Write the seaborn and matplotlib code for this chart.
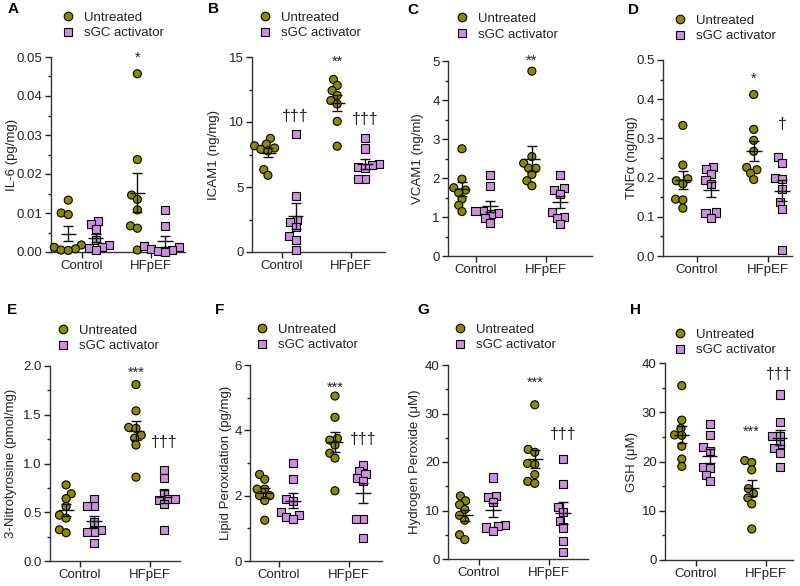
import numpy as np
import pandas as pd
import matplotlib
matplotlib.use("Agg")
import matplotlib.pyplot as plt
import seaborn as sns
from matplotlib.lines import Line2D
from matplotlib.ticker import MultipleLocator, FormatStrFormatter

sns.set_style("ticks")
plt.rcParams["font.family"] = ["Liberation Sans", "DejaVu Sans"]

GROUPS = ["Control", "HFpEF"]
TREATMENTS = ["Untreated", "sGC activator"]
OLIVE = "#8A8A00"
VIOLET = "#CC8FDD"

# ---- data ----
IL6_CTRL_UNT = [0.0133, 0.0100, 0.0096, 0.0018, 0.0012, 0.0008, 0.0005, 0.0004]
IL6_CTRL_SGC = [0.0079, 0.0072, 0.0058, 0.0031, 0.0018, 0.0014, 0.0011, 0.0005]
IL6_HF_UNT = [0.0457, 0.0237, 0.0146, 0.0135, 0.0108, 0.0067, 0.0061, 0.0005]
IL6_HF_SGC = [0.0107, 0.0067, 0.0016, 0.0012, 0.0008, 0.0004, 0.0002, 0.0001]

ICAM_CTRL_UNT = [8.74, 8.30, 8.17, 8.00, 7.90, 7.78, 6.34, 5.90]
ICAM_CTRL_SGC = [9.07, 4.28, 2.45, 2.29, 1.93, 1.21, 0.93, 0.18]
ICAM_HF_UNT = [13.27, 12.81, 12.42, 12.04, 11.65, 11.39, 10.05, 8.14]
ICAM_HF_SGC = [8.74, 7.96, 6.75, 6.68, 6.57, 6.49, 5.59, 5.59]

VCAM_CTRL_UNT = [2.75, 1.97, 1.75, 1.69, 1.62, 1.46, 1.30, 1.14]
VCAM_CTRL_SGC = [2.07, 1.79, 1.15, 1.15, 1.11, 1.08, 0.98, 0.85]
VCAM_HF_UNT = [4.74, 2.55, 2.38, 2.25, 2.25, 2.09, 1.93, 1.80]
VCAM_HF_SGC = [2.07, 1.75, 1.69, 1.60, 1.12, 1.01, 0.98, 0.82]

TNF_CTRL_UNT = [0.333, 0.232, 0.197, 0.192, 0.184, 0.145, 0.143, 0.122]
TNF_CTRL_SGC = [0.228, 0.221, 0.208, 0.195, 0.184, 0.111, 0.109, 0.098]
TNF_HF_UNT = [0.412, 0.323, 0.295, 0.267, 0.226, 0.220, 0.211, 0.195]
TNF_HF_SGC = [0.252, 0.238, 0.198, 0.197, 0.171, 0.138, 0.121, 0.015]

NT_CTRL_UNT = [0.78, 0.69, 0.64, 0.56, 0.47, 0.44, 0.32, 0.29]
NT_CTRL_SGC = [0.64, 0.56, 0.56, 0.40, 0.32, 0.30, 0.30, 0.18]
NT_HF_UNT = [1.81, 1.54, 1.37, 1.36, 1.29, 1.26, 1.19, 0.86]
NT_HF_SGC = [0.93, 0.85, 0.70, 0.64, 0.64, 0.63, 0.58, 0.32]

LP_CTRL_UNT = [2.65, 2.50, 2.20, 2.20, 2.00, 2.00, 1.85, 1.25]
LP_CTRL_SGC = [3.00, 2.50, 1.90, 1.85, 1.50, 1.40, 1.35, 1.30]
LP_HF_UNT = [5.05, 4.40, 3.75, 3.70, 3.55, 3.30, 3.15, 2.15]
LP_HF_SGC = [2.95, 2.75, 2.65, 2.55, 2.45, 1.30, 1.30, 0.70]

HP_CTRL_UNT = [13.0, 12.0, 11.2, 10.2, 9.0, 8.0, 5.0, 4.0]
HP_CTRL_SGC = [16.8, 13.0, 12.7, 11.7, 7.0, 6.8, 6.5, 5.8]
HP_HF_UNT = [31.8, 22.6, 22.0, 19.7, 19.5, 17.4, 16.0, 15.6]
HP_HF_SGC = [20.7, 15.5, 10.7, 9.7, 7.8, 6.5, 3.7, 1.5]

GSH_CTRL_UNT = [35.4, 28.4, 26.7, 25.4, 25.3, 23.1, 20.5, 19.0]
GSH_CTRL_SGC = [27.7, 25.3, 22.9, 22.2, 18.9, 18.6, 17.2, 16.0]
GSH_HF_UNT = [20.2, 19.8, 18.3, 14.5, 13.5, 12.6, 11.4, 6.3]
GSH_HF_SGC = [33.6, 28.0, 25.2, 25.1, 23.6, 22.7, 21.8, 18.9]

PANEL_LETTERS = ["A", "B", "C", "D", "E", "F", "G", "H"]
YLABELS = ["IL-6 (pg/mg)", "ICAM1 (ng/mg)", "VCAM1 (ng/ml)", "TNF\u03b1 (ng/mg)",
           "3-Nitrotyrosine (pmol/mg)", "Lipid Peroxidation (pg/mg)",
           "Hydrogen Peroxide (\u03bcM)", "GSH (\u03bcM)"]
YMAX = [0.05, 15, 5, 0.5, 2.0, 6, 40, 40]
YMAJOR = [0.01, 5, 1, 0.1, 0.5, 2, 10, 10]
YFMT = ["%.2f", "%d", "%d", "%.1f", "%.1f", "%d", "%d", "%d"]
# significance marks: (group index, treatment index, text, height)
MARKS = [
    [(1, 0, "*", 0.0497)],
    [(1, 0, "**", 14.6), (0, 1, "\u2020\u2020\u2020", 10.4), (1, 1, "\u2020\u2020\u2020", 10.2)],
    [(1, 0, "**", 5.0)],
    [(1, 0, "*", 0.452), (1, 1, "\u2020", 0.335)],
    [(1, 0, "***", 1.93), (1, 1, "\u2020\u2020\u2020", 1.22)],
    [(1, 0, "***", 5.3), (1, 1, "\u2020\u2020\u2020", 3.72)],
    [(1, 0, "***", 36.3), (1, 1, "\u2020\u2020\u2020", 25.6)],
    [(1, 0, "***", 26.0), (1, 1, "\u2020\u2020\u2020", 37.6)],
]
DATA = [
    (IL6_CTRL_UNT, IL6_CTRL_SGC, IL6_HF_UNT, IL6_HF_SGC),
    (ICAM_CTRL_UNT, ICAM_CTRL_SGC, ICAM_HF_UNT, ICAM_HF_SGC),
    (VCAM_CTRL_UNT, VCAM_CTRL_SGC, VCAM_HF_UNT, VCAM_HF_SGC),
    (TNF_CTRL_UNT, TNF_CTRL_SGC, TNF_HF_UNT, TNF_HF_SGC),
    (NT_CTRL_UNT, NT_CTRL_SGC, NT_HF_UNT, NT_HF_SGC),
    (LP_CTRL_UNT, LP_CTRL_SGC, LP_HF_UNT, LP_HF_SGC),
    (HP_CTRL_UNT, HP_CTRL_SGC, HP_HF_UNT, HP_HF_SGC),
    (GSH_CTRL_UNT, GSH_CTRL_SGC, GSH_HF_UNT, GSH_HF_SGC),
]

# ---- layout (pixel boxes: left, right, top, bottom) ----
W, H = 800, 586
BOXES = [(51, 185, 57, 252), (252, 385, 57, 252), (448, 592, 61, 256), (663, 792, 60, 256),
         (50, 180, 366, 561), (250, 382, 365, 561), (448, 588, 365, 559), (665, 793, 363, 560)]
XLIMS = [(-0.45, 1.49), (-0.43, 1.49), (-0.40, 1.66), (-0.48, 1.34),
         (-0.43, 1.43), (-0.41, 1.47), (-0.44, 1.56), (-0.44, 1.39)]
LETTER_POS = [(8, 9), (208, 9), (407, 10), (628, 10), (7, 310), (215, 310), (417, 310), (630, 310)]
LEGEND_Y = [1.09, 1.09, 1.105, 1.09, 1.07, 1.07, 1.07, 1.034]
LEGEND_MARKER_PX = [17, 13, 14, 17, 13, 12, 12, 15]
YLABEL_CENTER_PX = [12, 215, 418, 632, 12, 227, 415, 632]

MS = 5.8          # displayed marker size (pt)
LAYOUT_MS = 4.2   # marker size used for swarm layout (points may overlap, as in the original)

fig = plt.figure(figsize=(8, 5.86), dpi=100)
TXT = "#222222"
swarm_collections = []

for k in range(8):
    l, r, t, b = BOXES[k]
    wpx = r - l
    ax = fig.add_axes([l / W, 1 - b / H, wpx / W, (b - t) / H])
    cu, cs, hu, hs = DATA[k]
    rows = []
    for g, vals_u, vals_s in [("Control", cu, cs), ("HFpEF", hu, hs)]:
        rows += [(g, "Untreated", v) for v in vals_u]
        rows += [(g, "sGC activator", v) for v in vals_s]
    df = pd.DataFrame(rows, columns=["Group", "Treatment", "Value"])

    n0 = len(ax.collections)
    for tr, mk in zip(TREATMENTS, ["o", "s"]):
        sns.swarmplot(data=df[df["Treatment"] == tr], x="Group", y="Value",
                      hue="Treatment", hue_order=TREATMENTS, order=GROUPS,
                      dodge=True, marker=mk, palette={"Untreated": OLIVE, "sGC activator": VIOLET},
                      size=LAYOUT_MS, edgecolor="black", linewidth=0.8, ax=ax, legend=False)
    for c in ax.collections[n0:]:
        c.set_zorder(3)
        swarm_collections.append((ax, c))

    # mean +/- SEM
    for gi, g in enumerate(GROUPS):
        for ti, tr in enumerate(TREATMENTS):
            v = df[(df["Group"] == g) & (df["Treatment"] == tr)]["Value"].to_numpy()
            m = v.mean()
            se = v.std(ddof=1) / np.sqrt(len(v))
            x = gi + (-0.2 if ti == 0 else 0.2)
            ax.hlines(m, x - 0.11, x + 0.11, color="#111111", lw=1.0, zorder=6)
            ax.errorbar(x, m, yerr=se, fmt="none", ecolor="#111111", elinewidth=1.0,
                        capsize=3.5, capthick=1.0, zorder=6)

    for gi, ti, txt, yv in MARKS[k]:
        x = gi + (-0.2 if ti == 0 else 0.2)
        fs = 11.5 if "\u2020" in txt else 10.5
        ax.text(x, yv, txt, ha="center", va="center", fontsize=fs, color=TXT, clip_on=False)

    ax.set_xlim(*XLIMS[k])
    ax.set_ylim(0, YMAX[k])
    ax.yaxis.set_major_locator(MultipleLocator(YMAJOR[k]))
    ax.yaxis.set_minor_locator(MultipleLocator(YMAJOR[k] / 2))
    ax.yaxis.set_major_formatter(FormatStrFormatter(YFMT[k]))
    ax.set_xlabel("")
    ax.set_ylabel(YLABELS[k], fontsize=9.5, color=TXT)
    ax.yaxis.set_label_coords((YLABEL_CENTER_PX[k] + 5.5 - l) / wpx, 0.5)
    ax.tick_params(axis="both", labelsize=9.5, colors=TXT, width=1.0, length=4, pad=2)
    ax.tick_params(axis="y", which="minor", length=2.5, width=1.0, colors=TXT)
    for s in ["top", "right"]:
        ax.spines[s].set_visible(False)
    for s in ["left", "bottom"]:
        ax.spines[s].set_color("#333333")
        ax.spines[s].set_linewidth(1.0)
    ax.set_facecolor("white")

    handles = [Line2D([], [], marker="o", ls="", mfc=OLIVE, mec="black", mew=0.8, ms=6.2),
               Line2D([], [], marker="s", ls="", mfc=VIOLET, mec="black", mew=0.8, ms=6.2)]
    ax.legend(handles, TREATMENTS, loc="lower left",
              bbox_to_anchor=((LEGEND_MARKER_PX[k] - 6.6) / wpx, LEGEND_Y[k]),
              frameon=False, fontsize=9.5, handlelength=1.0, handletextpad=0.75,
              borderpad=0, borderaxespad=0, labelspacing=0.25, labelcolor=TXT)

    lx, ly = LETTER_POS[k]
    fig.text(lx / W, 1 - ly / H, PANEL_LETTERS[k], fontsize=11, fontweight="bold",
             ha="left", va="center", color="black")

# compute the swarm layout with the smaller layout size, then freeze it and enlarge markers
fig.canvas.draw()
for ax, c in swarm_collections:
    if "draw" in c.__dict__:
        del c.draw
    c.set_sizes([MS ** 2])
    off = np.asarray(c.get_offsets(), dtype=float)
    if off.size == 0 or not np.all(np.isfinite(off)):
        c.set_visible(False)
        continue
    # let markers sitting on the axis line show fully (only real, in-range points)
    x0, x1 = ax.get_xlim()
    y0, y1 = ax.get_ylim()
    if np.all((off[:, 0] >= x0) & (off[:, 0] <= x1) & (off[:, 1] >= y0) & (off[:, 1] <= y1)):
        c.set_clip_on(False)

fig.savefig("out.png", dpi=100, facecolor="white")
